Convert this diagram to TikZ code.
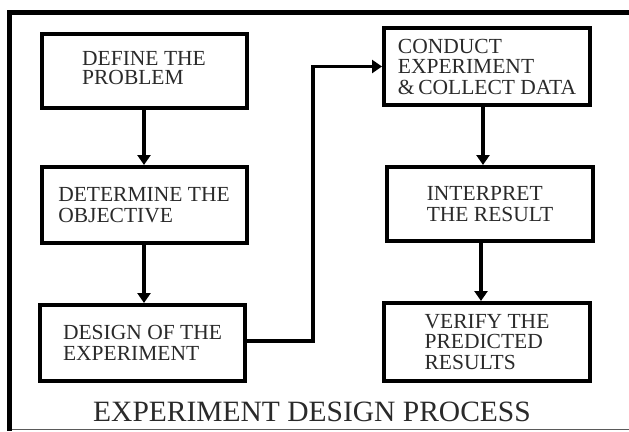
\documentclass[tikz,border=0pt]{standalone}
\usepackage{fontspec}
\setmainfont{Liberation Serif}
\usetikzlibrary{arrows.meta}
\definecolor{textgray}{HTML}{2A2A2A}
\definecolor{linegray}{HTML}{5A5A5A}
\begin{document}
\begin{tikzpicture}[x=1pt,y=-1pt,
  box/.style={draw=black,line width=4pt,rectangle,align=left,text=textgray,
    font=\fontsize{21.5}{20.5}\selectfont,inner sep=0pt,
    minimum width=205pt,minimum height=76pt},
  conn/.style={line width=3.5pt,-{Triangle[width=13pt,length=10pt]}},
  frameline/.style={line width=4.5pt,draw=black},
  titlefont/.style={font=\fontsize{29.5}{30}\selectfont,text=textgray}]
\useasboundingbox (0,0) rectangle (629,431);
% frame
\draw[frameline] (7,12.5) -- (629,12.5);
\draw[frameline,line width=5pt] (9.5,10.5) -- (9.5,431);
\draw[line width=1.5pt,draw=linegray] (12,429.5) -- (629,429.5);
% boxes
\node[box,minimum height=74pt] (b1) at (144,71)
  {\raisebox{8pt}{\begin{tabular}{@{}l@{}}DEFINE THE\\[-1pt]PROBLEM\end{tabular}}};
\node[box] (b2) at (144,205) {DETERMINE THE\\OBJECTIVE};
\node[box] (b3) at (142.5,343) {DESIGN OF THE\\EXPERIMENT};
\node[box,minimum width=206pt,minimum height=77pt] (b4) at (487,66.5) {CONDUCT\\EXPERIMENT\\\&\,COLLECT DATA};
\node[box,minimum width=206pt,minimum height=74pt] (b5) at (490,204) {INTERPRET\\THE RESULT};
\node[box,minimum width=206pt,minimum height=78pt] (b6) at (487,342) {VERIFY THE\\PREDICTED\\RESULTS};
% title
\node[titlefont] (title) at (312,412) {EXPERIMENT DESIGN PROCESS};
% connectors
\coordinate (turn) at (313,0);
\draw[conn] (b1.south) -- (b2.north);
\draw[conn] (b2.south) -- (b3.north -| b2.south);
\draw[conn] ([xshift=-4pt]b4.south) -- ([xshift=-4pt]b4.south |- b5.north);
\draw[conn] ([xshift=-9pt]b5.south) -- ([xshift=-9pt]b5.south |- b6.north);
\draw[conn] ([yshift=2pt]b3.east) -| (turn |- b4.west) -- (b4.west);
\end{tikzpicture}
\end{document}
